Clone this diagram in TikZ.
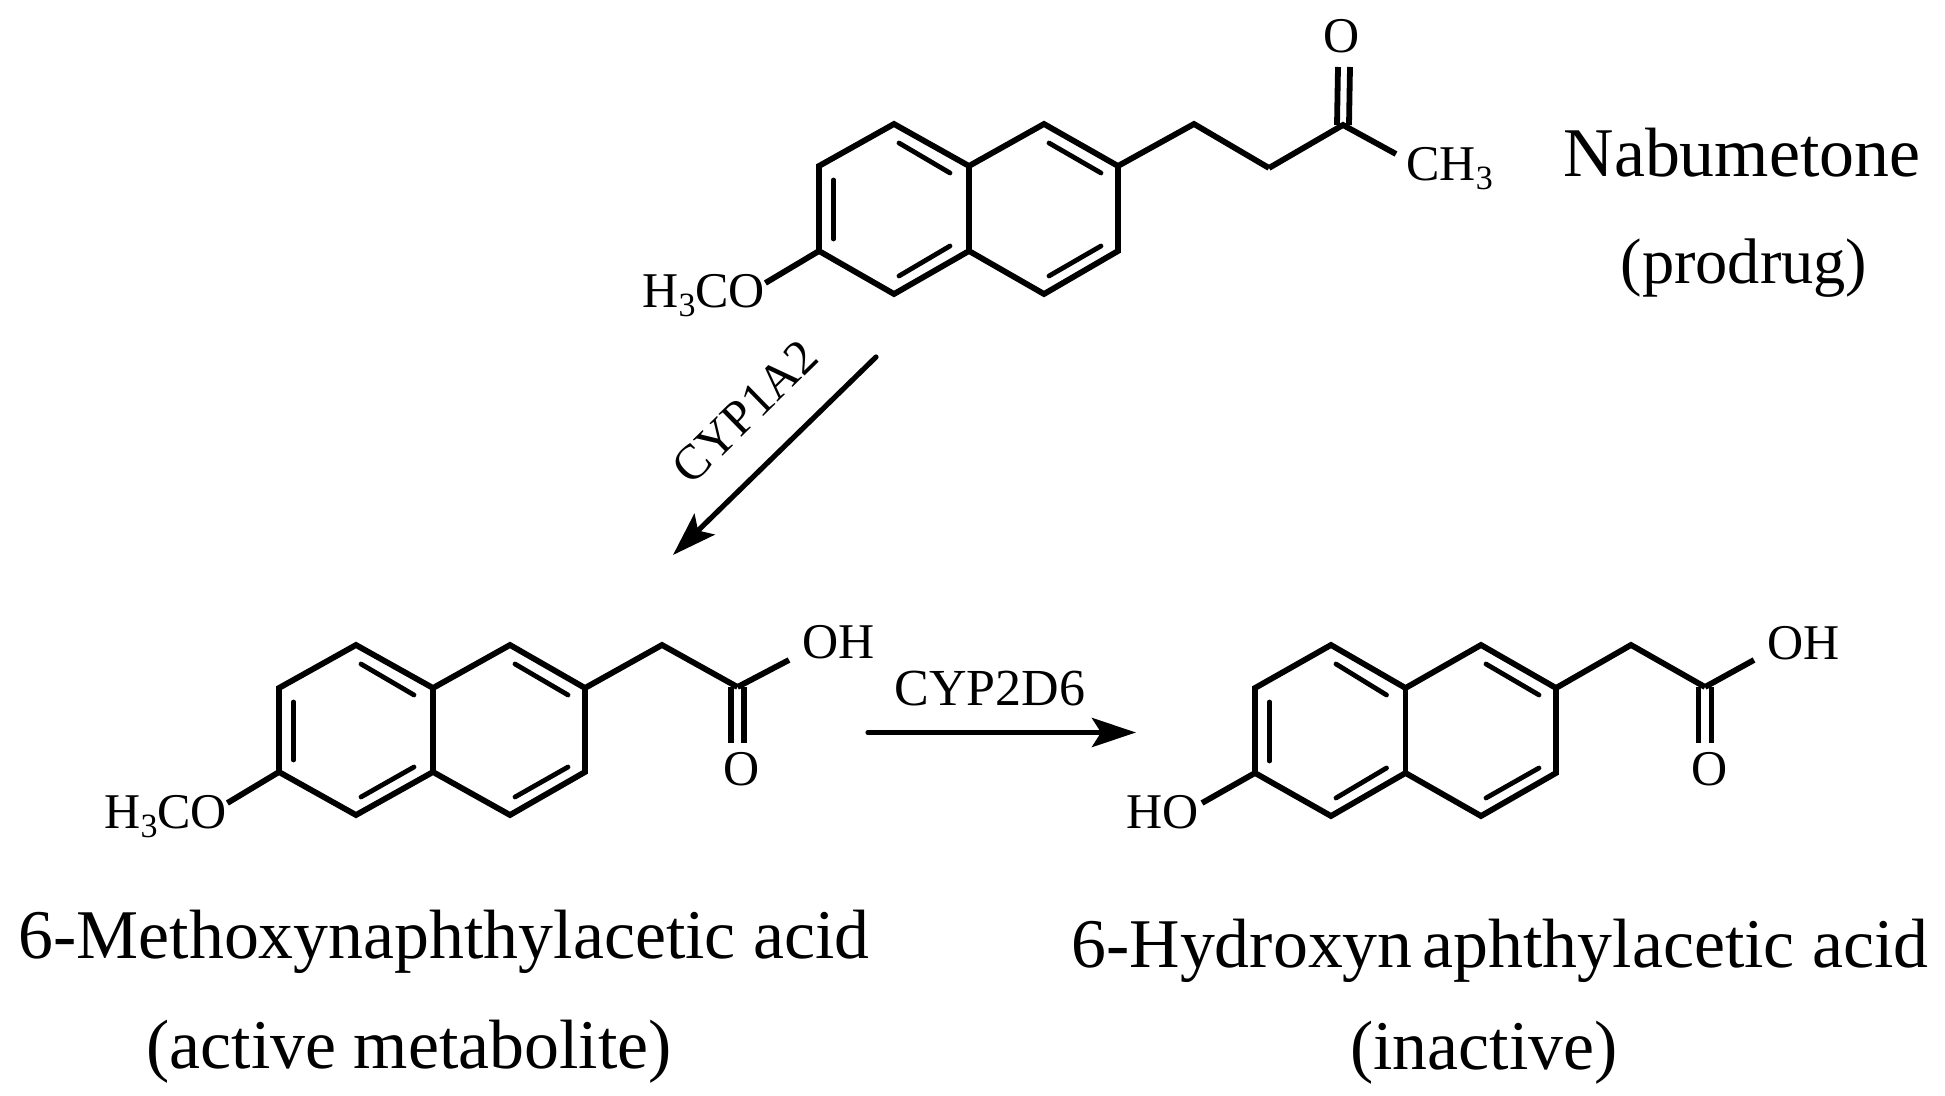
\documentclass[tikz,border=0pt]{standalone}
\usepackage{fontspec}
\setmainfont{Liberation Serif}
\usetikzlibrary{calc,arrows.meta}
\newcommand{\lowsub}[1]{\raisebox{-4.5pt}{\fontsize{17}{17}\selectfont #1}}
\tikzset{
    bond/.style={line width=2.9pt},
    innerbond/.style={line width=2.4pt,line cap=round},
    atomtxt/.style={inner sep=0pt,anchor=base west,font=\fontsize{25}{30}\selectfont},
    enztxt/.style={inner sep=0pt,font=\fontsize{26}{30}\selectfont},
    nametxt/.style={inner sep=0pt,anchor=base,font=\fontsize{34.9}{42}\selectfont},
    react/.style={line width=2.6pt,line cap=round,-{Stealth[length=22pt,width=14.5pt,inset=4.5pt]}}
}
\begin{document}
\begin{tikzpicture}[x=0.5pt,y=-0.5pt]
    \useasboundingbox (0,0) rectangle (1945,1096);

    \coordinate (a1) at (894,124);
    \coordinate (a2) at (819,166);
    \coordinate (a3) at (819,251);
    \coordinate (a4) at (894,294);
    \coordinate (a5) at (969,166);
    \coordinate (a6) at (969,251);
    \coordinate (a7) at (1044,124);
    \coordinate (a8) at (1118,166);
    \coordinate (a9) at (1118,251);
    \coordinate (a10) at (1044,294);
    \coordinate (a11) at (1194,124);
    \coordinate (a12) at (1269,168);
    \coordinate (a13) at (1343,125);
    \coordinate (a14) at (1344,67);
    \coordinate (a15) at (1396,154);

    \coordinate (b1) at (356,645);
    \coordinate (b2) at (279,688);
    \coordinate (b3) at (279,772);
    \coordinate (b4) at (356,815);
    \coordinate (b5) at (433,688);
    \coordinate (b6) at (433,772);
    \coordinate (b7) at (510,645);
    \coordinate (b8) at (585,688);
    \coordinate (b9) at (585,772);
    \coordinate (b10) at (510,815);
    \coordinate (b11) at (662,645);
    \coordinate (b12) at (737.5,687);
    \coordinate (b13) at (737.5,743);
    \coordinate (b14) at (789,660);

    \coordinate (c1) at (1331,645);
    \coordinate (c2) at (1255,688);
    \coordinate (c3) at (1255,773);
    \coordinate (c4) at (1331,816);
    \coordinate (c5) at (1405.5,688);
    \coordinate (c6) at (1405.5,773);
    \coordinate (c7) at (1481,645);
    \coordinate (c8) at (1556,688);
    \coordinate (c9) at (1556,773);
    \coordinate (c10) at (1481,816);
    \coordinate (c11) at (1631,645);
    \coordinate (c12) at (1705,687);
    \coordinate (c13) at (1705,743);
    \coordinate (c14) at (1754,660);
    \coordinate (c15) at (1202,803);

    \foreach \m in {a,b,c} {
        \draw[bond] (\m2) -- (\m1) -- (\m5) -- (\m7) -- (\m8) -- (\m9) -- (\m10) -- (\m6) -- (\m4) -- (\m3) -- cycle;
        \draw[bond] (\m5) -- (\m6);
        \draw[bond] (\m8) -- (\m11) -- (\m12);
        \draw[innerbond] ($(\m2)+(14.5,14)$) -- ($(\m3)+(14.5,-12)$);
        \draw[innerbond] ($(\m1)+(5,19)$) -- ($(\m5)+(-19,7)$);
        \draw[innerbond] ($(\m4)+(5,-18)$) -- ($(\m6)+(-19,-5)$);
        \draw[innerbond] ($(\m7)+(5,19)$) -- ($(\m8)+(-17,7)$);
        \draw[innerbond] ($(\m10)+(5,-18)$) -- ($(\m9)+(-17,-5)$);
    }

    \node[atomtxt] (ao) at (1323,53) {O};
    \node[atomtxt] (ach) at (1406,181) {CH\lowsub{3}};
    \node[atomtxt] (aome) at (642,308) {H\lowsub{3}CO};
    \draw[bond] (a12) -- (a13) -- (a15);
    \draw[bond] ($(a13)+(-6,0)$) -- ($(a14)+(-6,0)$);
    \draw[bond] ($(a13)+(6,0)$) -- ($(a14)+(6,0)$);
    \draw[bond] (a3) -- (aome.12);

    \node[atomtxt] (boh) at (802,659) {OH};
    \node[atomtxt] (bo) at (723.5,785) {O};
    \node[atomtxt] (bome) at (104,828) {H\lowsub{3}CO};
    \draw[bond] (b12) -- (b14);
    \draw[bond] ($(b12)+(-6.5,0)$) -- ($(b13)+(-6.5,0)$);
    \draw[bond] ($(b12)+(6.5,0)$) -- ($(b13)+(6.5,0)$);
    \draw[bond] (b3) -- (bome.12);

    \node[atomtxt] (coh) at (1767,660) {OH};
    \node[atomtxt] (co) at (1691,785) {O};
    \node[atomtxt] (cho) at (1126,828) {HO};
    \draw[bond] (c12) -- (c14);
    \draw[bond] ($(c12)+(-6.5,0)$) -- ($(c13)+(-6.5,0)$);
    \draw[bond] ($(c12)+(6.5,0)$) -- ($(c13)+(6.5,0)$);
    \draw[bond] (c3) -- (c15);

    \coordinate (r1s) at (876,357);
    \coordinate (r1e) at (673,555);
    \coordinate (r2s) at (868,732.5);
    \coordinate (r2e) at (1136,732.5);
    \draw[react] (r1s) -- (r1e);
    \draw[react] (r2s) -- (r2e);
    \node[enztxt,rotate=44.4,font=\fontsize{24.6}{30}\selectfont] (cyp1) at (745,412) {CYP1A2};
    \node[enztxt,anchor=base] (cyp2) at (990,705) {CYP2D6};

    \node[nametxt] (nab) at (1742,177) {Nabumetone};
    \node[nametxt,font=\fontsize{32.2}{42}\selectfont] (pro) at (1744,284) {(prodrug)};
    \node[nametxt] (mna) at (444,958) {6-Methoxynaphthylacetic acid};
    \node[nametxt] (act) at (409,1068) {(active metabolite)};
    \node[nametxt] (hna) at (1500,967) {6-Hydroxyn\kern5pt aphthylacetic acid};
    \node[nametxt] (ina) at (1484,1069) {(inactive)};
\end{tikzpicture}
\end{document}
